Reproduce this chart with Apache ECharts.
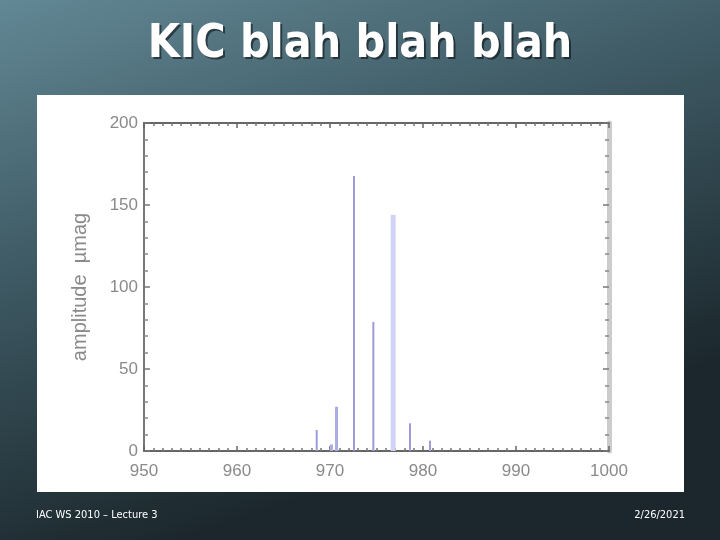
<!DOCTYPE html>
<html>
<head>
<meta charset="utf-8">
<script src="https://cdn.jsdelivr.net/npm/echarts@6/dist/echarts.min.js"></script>
<style>html,body{margin:0;padding:0;background:#2b3d44;}#c{width:720px;height:540px;}</style>
</head>
<body>
<div id="c"></div>
<script>
// Data
const titleText = 'KIC blah blah blah';
const footerLeft = 'IAC WS 2010 – Lecture 3';
const footerRight = '2/26/2021';
const yAxisName = 'amplitude  µmag';
const xRange = [950, 1000];
const yRange = [0, 200];
const darkFreq = [968.57, 972.58, 974.66, 978.6, 980.75];
const darkAmp  = [12.8, 167.7, 78.7, 16.9, 6.3];
const midFreq = [970.1, 970.65];
const midAmp  = [4, 27];
const lightFreq = [976.63];
const lightAmp  = [144];

const chart = echarts.init(document.getElementById('c'), null, {renderer: 'canvas'});
const labelStyle = {color: '#8a8a8a', fontSize: 17, fontFamily: 'Liberation Sans, Arial, sans-serif'};

function xAxisCfg(pos, showLabel) {
  return {
    type: 'value', position: pos, min: xRange[0], max: xRange[1], interval: 10,
    axisLine: {show: true, onZero: false, lineStyle: {color: '#666', width: 2}},
    axisTick: {show: true, inside: true, length: 5, lineStyle: {color: '#666', width: 1.5}},
    minorTick: {show: true, splitNumber: 10, length: 3, lineStyle: {color: '#777', width: 1.5}},
    splitLine: {show: false},
    axisLabel: showLabel ? Object.assign({margin: 12, formatter: v => String(v)}, labelStyle) : {show: false}
  };
}
function yAxisCfg(pos, showLabel, lineColor, lineWidth) {
  return {
    type: 'value', position: pos, min: yRange[0], max: yRange[1], interval: 50,
    axisLine: {show: true, onZero: false, lineStyle: {color: lineColor, width: lineWidth}},
    axisTick: {show: true, inside: true, length: 6, lineStyle: {color: '#777', width: 1.5}},
    minorTick: {show: true, splitNumber: 5, length: 4, lineStyle: {color: '#888', width: 1.5}},
    splitLine: {show: false},
    axisLabel: showLabel ? Object.assign({margin: 6, formatter: v => String(v)}, labelStyle) : {show: false}
  };
}

chart.setOption({
  animation: false,
  backgroundColor: {
    type: 'linear', x: 0, y: 0, x2: 0.25, y2: 1,
    colorStops: [
      {offset: 0, color: '#628895'},
      {offset: 0.45, color: '#3f5b65'},
      {offset: 1, color: '#1b272c'}
    ]
  },
  graphic: [
    {type: 'rect', z: -10, shape: {x: 37, y: 95, width: 647, height: 397}, style: {fill: '#ffffff'}},
    {type: 'text', x: 362, y: 47, z: 9,
      style: {text: titleText, fill: 'rgba(0,0,0,0.5)', fontSize: 46, fontWeight: 'bold',
        fontFamily: 'DejaVu Sans Condensed, Liberation Sans Narrow, sans-serif',
        align: 'center', verticalAlign: 'middle'}},
    {type: 'text', x: 360, y: 45, z: 10,
      style: {text: titleText, fill: '#ffffff', fontSize: 46, fontWeight: 'bold',
        fontFamily: 'DejaVu Sans Condensed, Liberation Sans Narrow, sans-serif',
        align: 'center', verticalAlign: 'middle'}},
    {type: 'text', x: 80, y: 287, rotation: Math.PI / 2, z: 10,
      style: {text: yAxisName, fill: '#8a8a8a', fontSize: 20, fontFamily: 'Liberation Sans, Arial, sans-serif', align: 'center', verticalAlign: 'middle'}},
    {type: 'text', x: 36, y: 515,
      style: {text: footerLeft, fill: '#ffffff', fontSize: 11, fontFamily: 'DejaVu Sans Condensed, sans-serif', align: 'left', verticalAlign: 'middle'}},
    {type: 'text', x: 685, y: 515,
      style: {text: footerRight, fill: '#ffffff', fontSize: 11, fontFamily: 'DejaVu Sans Condensed, sans-serif', align: 'right', verticalAlign: 'middle'}}
  ],
  grid: {left: 144, right: 111, top: 123, bottom: 89},
  xAxis: [xAxisCfg('bottom', true), xAxisCfg('top', false)],
  yAxis: [yAxisCfg('left', true, '#777', 2), yAxisCfg('right', false, '#cccccc', 5)],
  series: [
    {type: 'bar', xAxisIndex: 0, yAxisIndex: 0, barWidth: 5, barGap: '-100%',
      itemStyle: {color: '#d2d2f4'},
      data: lightFreq.map((f, i) => [f, lightAmp[i]])},
    {type: 'bar', xAxisIndex: 0, yAxisIndex: 0, barWidth: 3, barGap: '-100%',
      itemStyle: {color: '#ababe5'},
      data: midFreq.map((f, i) => [f, midAmp[i]])},
    {type: 'bar', xAxisIndex: 0, yAxisIndex: 0, barWidth: 2, barGap: '-100%',
      itemStyle: {color: '#9c9cdc'},
      data: darkFreq.map((f, i) => [f, darkAmp[i]])}
  ]
});
</script>
</body>
</html>
